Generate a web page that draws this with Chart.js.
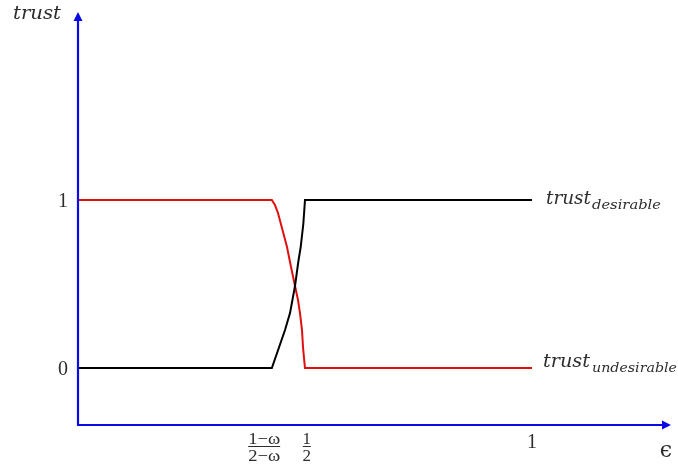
<!DOCTYPE html>
<html>
<head>
<meta charset="utf-8">
<script src="https://cdn.jsdelivr.net/npm/chart.js@4/dist/chart.umd.min.js"></script>
<style>
  html, body { margin: 0; padding: 0; background: #fff; }
  #wrap { width: 678px; height: 469px; }
</style>
</head>
<body>
<div id="wrap"><canvas id="c" width="678" height="469"></canvas></div>
<script>
// trust as a function of epsilon, with a steep switch between the two thresholds
const desirableX   = [0, 0.427, 0.456, 0.467, 0.478, 0.4852, 0.4905, 0.4963, 0.5, 1];
const desirableY   = [0, 0,     0.226, 0.327, 0.488, 0.631,  0.72,   0.857,  1,   1];
const undesirableX = [0, 0.427, 0.4339, 0.4405, 0.4493, 0.4604, 0.4692, 0.478, 0.4846, 0.489, 0.4934, 0.4956, 0.4978, 0.5, 1];
const undesirableY = [1, 1,     0.97,   0.923,  0.833,  0.72,   0.601,  0.488, 0.405,  0.327, 0.226,  0.125,  0.06,   0,   0];

// axis ticks
const yTickValues = [0, 1];
const yTickLabels = ['0', '1'];
const xTickValues = [0.41, 0.504, 1];
const xTickLabels = [['1\u2212\u03c9', '2\u2212\u03c9'], ['1', '2'], '1'];

const seriesNames = ['trust', 'trust'];
const seriesSubs = ['desirable', 'undesirable'];

const toPoints = (xs, ys) => xs.map((x, i) => ({ x: x, y: ys[i] }));

const AXIS = '#0a0ae6';
const TEXT = '#2e2e2e';
const SERIF = '"DejaVu Serif", serif';
const ROMAN = '"Liberation Serif", "DejaVu Serif", serif';

// draw text left-aligned at x, stretched horizontally to the given width
function fitText(ctx, text, x, y, width) {
  const natural = ctx.measureText(text).width;
  ctx.save();
  ctx.textAlign = 'left';
  ctx.translate(x, y);
  ctx.scale(width / natural, 1);
  ctx.fillText(text, 0, 0);
  ctx.restore();
}

const decorations = {
  id: 'decorations',
  afterDraw(chart) {
    const ctx = chart.ctx;
    const xs = chart.scales.x, ys = chart.scales.y;
    const left = chart.chartArea.left, bottom = chart.chartArea.bottom;
    const top = chart.chartArea.top, right = chart.chartArea.right;
    ctx.save();
    // axes with arrow heads
    ctx.strokeStyle = AXIS; ctx.fillStyle = AXIS; ctx.lineWidth = 2.2;
    ctx.beginPath();
    ctx.moveTo(left, bottom); ctx.lineTo(left, top + 4);
    ctx.moveTo(left - 1, bottom); ctx.lineTo(right - 4, bottom);
    ctx.stroke();
    ctx.beginPath();
    ctx.moveTo(left, top - 3); ctx.lineTo(left - 4.5, top + 6); ctx.lineTo(left + 4.5, top + 6); ctx.closePath();
    ctx.fill();
    ctx.beginPath();
    ctx.moveTo(right + 3, bottom); ctx.lineTo(right - 6, bottom - 4.5); ctx.lineTo(right - 6, bottom + 4.5); ctx.closePath();
    ctx.fill();

    ctx.fillStyle = TEXT;
    ctx.textBaseline = 'alphabetic';
    // y tick labels
    ctx.font = '20px ' + ROMAN;
    ctx.textAlign = 'center';
    yTickValues.forEach((v, i) => ctx.fillText(yTickLabels[i], 63, ys.getPixelForValue(v) + 7));
    // x tick labels
    xTickValues.forEach((v, i) => {
      const px = xs.getPixelForValue(v);
      const lab = xTickLabels[i];
      if (Array.isArray(lab)) {
        ctx.font = '17px ' + ROMAN;
        if (lab[0].length > 1) {
          const w = 32;
          fitText(ctx, lab[0], px - w / 2, bottom + 19, w);
          fitText(ctx, lab[1], px - w / 2, bottom + 36, w);
          ctx.fillRect(px - w / 2, bottom + 21, w, 1);
        } else {
          ctx.textAlign = 'center';
          ctx.fillText(lab[0], px, bottom + 19);
          ctx.fillText(lab[1], px, bottom + 36);
          ctx.fillRect(px - 4, bottom + 21, 8, 1);
        }
      } else {
        ctx.font = '20px ' + ROMAN;
        ctx.textAlign = 'center';
        ctx.fillText(lab, px, bottom + 23);
      }
    });
    // axis titles
    ctx.font = 'italic 18px ' + SERIF;
    fitText(ctx, 'trust', 13, 19, 48);
    ctx.font = '22px "DejaVu Serif", serif';
    ctx.textAlign = 'center';
    ctx.fillText('\u03f5', 666, 457);
    // series labels at the right end of each line
    const ends = [[546, ys.getPixelForValue(1) + 4, 45, 592, 69], [543, ys.getPixelForValue(0) - 1, 47, 592, 85]];
    ends.forEach((e, i) => {
      ctx.font = 'italic 18px ' + SERIF;
      fitText(ctx, seriesNames[i], e[0], e[1], e[2]);
      ctx.font = 'italic 13px ' + SERIF;
      fitText(ctx, seriesSubs[i], e[3], e[1] + 5, e[4]);
    });
    ctx.restore();
  }
};

new Chart(document.getElementById('c'), {
  type: 'scatter',
  data: {
    datasets: [
      { data: toPoints(desirableX, desirableY), borderColor: '#000', borderWidth: 2, showLine: true, pointRadius: 0, tension: 0 },
      { data: toPoints(undesirableX, undesirableY), borderColor: '#e01010', borderWidth: 2, showLine: true, pointRadius: 0, tension: 0 }
    ]
  },
  options: {
    responsive: false,
    animation: false,
    layout: { padding: { left: 78, right: 10, top: 15, bottom: 44 } },
    plugins: { legend: { display: false }, tooltip: { enabled: false } },
    scales: {
      x: { type: 'linear', min: 0, max: 1.2996, display: false },
      y: { type: 'linear', min: -0.339, max: 2.101, display: false }
    }
  },
  plugins: [decorations]
});
</script>
</body>
</html>
